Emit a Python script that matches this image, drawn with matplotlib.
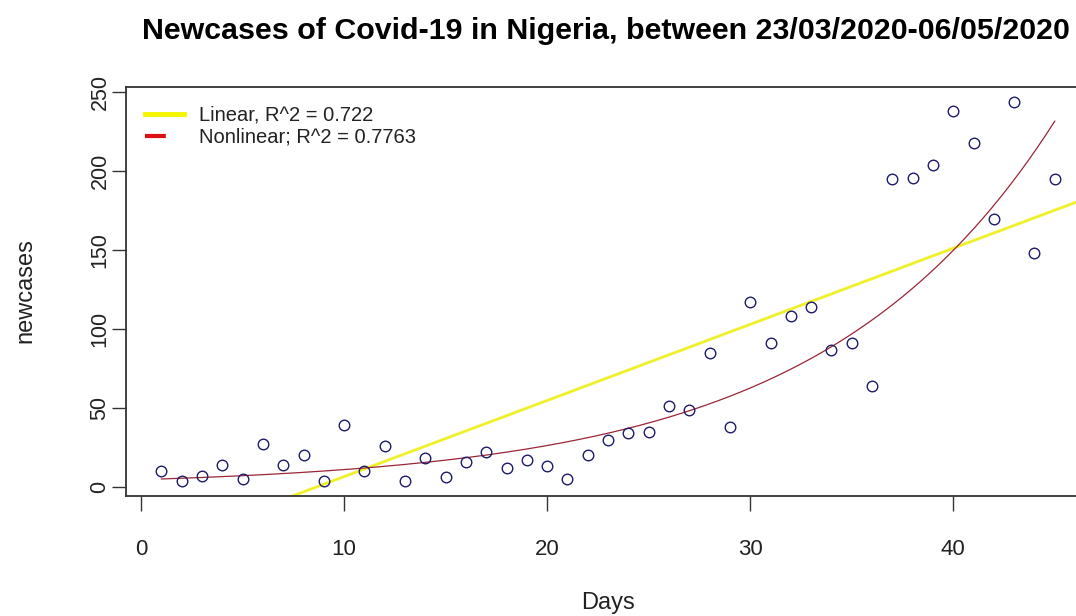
import numpy as np
import matplotlib
matplotlib.use("Agg")
import matplotlib.pyplot as plt
from matplotlib.lines import Line2D

# ---- data ----
days = list(range(1, 46))
newcases = [10, 4, 7, 14, 5, 27, 14, 20, 4, 39,
            10, 26, 4, 18, 6, 16, 22, 12, 17, 13,
            5, 20, 30, 34, 35, 51, 49, 85, 38, 117,
            91, 108, 114, 87, 91, 64, 195, 196, 204, 238,
            218, 170, 244, 148, 195]
# exponential (nonlinear) model coefficients y = a*exp(b*x)
exp_a = 4.58
exp_b = 0.0872
x_ticks = [0, 10, 20, 30, 40]
y_ticks = [0, 50, 100, 150, 200, 250]
title = "Newcases of Covid-19 in Nigeria, between 23/03/2020-06/05/2020"
legend_labels = ["Linear, R^2 = 0.722", "Nonlinear; R^2 = 0.7763"]

plt.rcParams['font.family'] = ['Liberation Sans', 'DejaVu Sans']

W, H = 1076, 616
fig = plt.figure(figsize=(W / 100, H / 100), dpi=100)
fig.patch.set_facecolor('white')

# axes box in pixels: left 125.7, right ~1090.5 (cut off), top 86.7, bottom 495.7
L, R, T, B = 125.7, 1090.5, 86.7, 495.7
ax = fig.add_axes([L / W, 1 - B / H, (R - L) / W, (B - T) / H])

x = np.array(days, dtype=float)
y = np.array(newcases, dtype=float)

xr = x.max() - x.min()
yr = y.max() - y.min()
ax.set_xlim(x.min() - 0.04 * xr, x.max() + 0.04 * xr)
ax.set_ylim(y.min() - 0.04 * yr, y.max() + 0.04 * yr)

# linear fit line across the whole plot (abline)
slope, intercept = np.polyfit(x, y, 1)
xl = np.array(ax.get_xlim())
ax.plot(xl, intercept + slope * xl, color='#f0f028', lw=2.0, zorder=2, clip_on=True)

# nonlinear curve
xc = np.linspace(x.min(), x.max(), 300)
ax.plot(xc, exp_a * np.exp(exp_b * xc), color='#9a2636', lw=0.9, zorder=3)

# points
ax.plot(x, y, linestyle='none', marker='o', markersize=7.6, markerfacecolor='none',
        markeredgecolor='#1c1c6a', markeredgewidth=1.0, zorder=4)

ax.set_xticks(x_ticks)
ax.set_yticks(y_ticks)
ax.set_xticklabels([str(t) for t in x_ticks], fontsize=16, color='#222222')
ax.set_yticklabels([str(t) for t in y_ticks], fontsize=15.5, color='#222222',
                   rotation=90, va='center')
ax.tick_params(axis='x', length=10.5, width=1.0, color='#333333', pad=21)
ax.tick_params(axis='y', length=10, width=1.0, color='#333333', pad=1)
for sp in ax.spines.values():
    sp.set_color('#333333')
    sp.set_linewidth(1.3)

fig.text(25 / W, 1 - 291 / H, "newcases", rotation=90, ha='center', va='center',
         fontsize=17, color='#222222')
fig.text(608 / W, 1 - 603 / H, "Days", ha='center', va='center',
         fontsize=17, color='#222222')

fig.text(606 / W, 1 - 31 / H, title, ha='center', va='center',
         fontsize=21.9, fontweight='bold', color='black')

handles = [Line2D([], [], color='#f5f500', lw=3.5),
           Line2D([], [], color='#dd1111', lw=3.0, linestyle=(0, (5, 10)))]
leg = ax.legend(handles, legend_labels, loc='upper left', frameon=False,
                fontsize=14.5, handlelength=1.95, handletextpad=0.75,
                borderaxespad=0.55, labelspacing=0.15,
                bbox_to_anchor=(0.0, 1.0))
for t in leg.get_texts():
    t.set_color('#222222')

fig.savefig("out.png", dpi=100, facecolor='white')
